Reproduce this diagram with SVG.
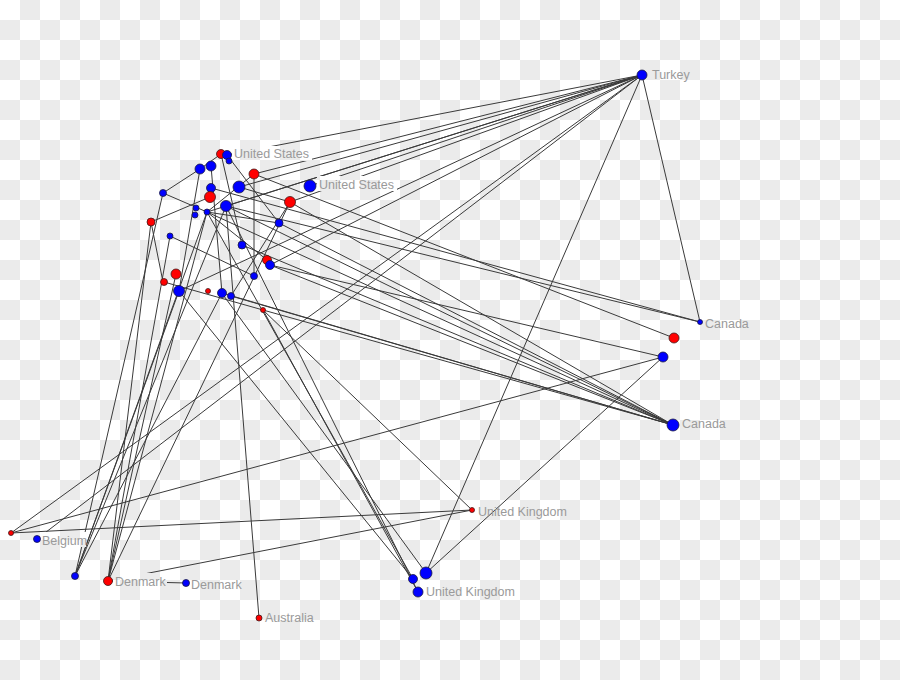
<svg xmlns="http://www.w3.org/2000/svg" width="900" height="680" viewBox="0 0 900 680">
<defs>
<pattern id="cb" width="40" height="40" patternUnits="userSpaceOnUse">
<rect width="40" height="40" fill="#ffffff"/>
<rect x="20" y="0" width="20" height="20" fill="#ebebeb"/>
<rect x="0" y="20" width="20" height="20" fill="#ebebeb"/>
</pattern>
</defs>
<style>
.e line{stroke:#3a3a3a;stroke-width:1}
.b{fill:#0000ff;stroke:#1a1a40;stroke-width:0.8}
.r{fill:#ff0000;stroke:#401a1a;stroke-width:0.8}
.t{font-family:"Liberation Sans",Arial,sans-serif;font-size:12.5px;fill:#9a9a9a}
.bg{fill:url(#cb)}
</style>
<rect width="900" height="680" fill="url(#cb)"/>
<g id="connectors" class="e">
<line x1="642" y1="75" x2="227" y2="155"/>
<line x1="642" y1="75" x2="254" y2="174"/>
<line x1="642" y1="75" x2="239" y2="187"/>
<line x1="642" y1="75" x2="310" y2="186"/>
<line x1="642" y1="75" x2="290" y2="202"/>
<line x1="642" y1="75" x2="226" y2="206"/>
<line x1="642" y1="75" x2="207" y2="212"/>
<line x1="642" y1="75" x2="270" y2="265"/>
<line x1="642" y1="75" x2="179" y2="291"/>
<line x1="642" y1="75" x2="11" y2="533"/>
<line x1="642" y1="75" x2="37" y2="539"/>
<line x1="642" y1="75" x2="700" y2="322"/>
<line x1="642" y1="75" x2="426" y2="573"/>
<line x1="673" y1="425" x2="207" y2="212"/>
<line x1="673" y1="425" x2="226" y2="206"/>
<line x1="673" y1="425" x2="290" y2="202"/>
<line x1="673" y1="425" x2="279" y2="223"/>
<line x1="673" y1="425" x2="270" y2="265"/>
<line x1="673" y1="425" x2="222" y2="293"/>
<line x1="673" y1="425" x2="231" y2="296"/>
<line x1="673" y1="425" x2="263" y2="310"/>
<line x1="673" y1="425" x2="242" y2="245"/>
<line x1="700" y1="322" x2="211" y2="188"/>
<line x1="700" y1="322" x2="226" y2="206"/>
<line x1="674" y1="338" x2="254" y2="174"/>
<line x1="663" y1="357" x2="270" y2="265"/>
<line x1="663" y1="357" x2="11" y2="533"/>
<line x1="663" y1="357" x2="426" y2="573"/>
<line x1="472" y1="510" x2="11" y2="533"/>
<line x1="472" y1="510" x2="108" y2="581"/>
<line x1="472" y1="510" x2="263" y2="310"/>
<line x1="108" y1="581" x2="186" y2="583"/>
<line x1="259" y1="618" x2="226" y2="206"/>
<line x1="75" y1="576" x2="179" y2="291"/>
<line x1="75" y1="576" x2="207" y2="212"/>
<line x1="75" y1="576" x2="163" y2="193"/>
<line x1="75" y1="576" x2="226" y2="206"/>
<line x1="75" y1="576" x2="222" y2="293"/>
<line x1="108" y1="581" x2="151" y2="222"/>
<line x1="108" y1="581" x2="176" y2="274"/>
<line x1="108" y1="581" x2="170" y2="236"/>
<line x1="108" y1="581" x2="207" y2="212"/>
<line x1="108" y1="581" x2="290" y2="202"/>
<line x1="413" y1="579" x2="207" y2="212"/>
<line x1="413" y1="579" x2="179" y2="291"/>
<line x1="418" y1="592" x2="226" y2="206"/>
<line x1="418" y1="592" x2="263" y2="310"/>
<line x1="426" y1="573" x2="221" y2="292"/>
<line x1="151" y1="222" x2="163" y2="282"/>
<line x1="151" y1="222" x2="210" y2="197"/>
<line x1="163" y1="193" x2="207" y2="212"/>
<line x1="163" y1="193" x2="200" y2="169"/>
<line x1="207" y1="212" x2="279" y2="223"/>
<line x1="207" y1="212" x2="267" y2="260"/>
<line x1="207" y1="212" x2="254" y2="174"/>
<line x1="170" y1="236" x2="254" y2="276"/>
<line x1="164" y1="282" x2="263" y2="310"/>
<line x1="221" y1="154" x2="242" y2="245"/>
<line x1="221" y1="154" x2="200" y2="169"/>
<line x1="227" y1="155" x2="279" y2="223"/>
<line x1="200" y1="169" x2="179" y2="291"/>
<line x1="211" y1="166" x2="222" y2="293"/>
<line x1="254" y1="174" x2="254" y2="276"/>
<line x1="290" y1="202" x2="231" y2="296"/>
<line x1="290" y1="202" x2="239" y2="187"/>
</g>
<g id="labels-bg">
<rect class="bg" x="232" y="146" width="80" height="15"/>
<rect class="bg" x="317" y="176" width="80" height="15"/>
<rect class="bg" x="40" y="532" width="46" height="15"/>
<rect class="bg" x="113" y="573" width="54" height="16"/>
</g>
<g id="n1"><circle class="r" cx="221" cy="154" r="4.5"/></g>
<g id="n2"><circle class="b" cx="227" cy="155" r="4.5"/><text class="t" x="234" y="158">United States</text></g>
<g id="n3"><circle class="b" cx="229" cy="161" r="3"/></g>
<g id="n4"><circle class="b" cx="200" cy="169" r="5"/></g>
<g id="n5"><circle class="b" cx="211" cy="166" r="5"/></g>
<g id="n6"><circle class="r" cx="254" cy="174" r="5"/></g>
<g id="n7"><circle class="b" cx="239" cy="187" r="6"/></g>
<g id="n8"><circle class="b" cx="310" cy="186" r="6"/><text class="t" x="319" y="189">United States</text></g>
<g id="n9"><circle class="b" cx="211" cy="188" r="4.5"/></g>
<g id="n10"><circle class="r" cx="210" cy="197" r="5.5"/></g>
<g id="n11"><circle class="b" cx="226" cy="206" r="5.5"/></g>
<g id="n12"><circle class="b" cx="163" cy="193" r="3.5"/></g>
<g id="n13"><circle class="r" cx="290" cy="202" r="5.5"/></g>
<g id="n14"><circle class="b" cx="196" cy="208" r="3"/></g>
<g id="n15"><circle class="b" cx="207" cy="212" r="3"/></g>
<g id="n16"><circle class="b" cx="195" cy="215" r="3"/></g>
<g id="n17"><circle class="r" cx="151" cy="222" r="4"/></g>
<g id="n18"><circle class="b" cx="279" cy="223" r="4"/></g>
<g id="n19"><circle class="b" cx="170" cy="236" r="3"/></g>
<g id="n20"><circle class="b" cx="242" cy="245" r="4"/></g>
<g id="n21"><circle class="r" cx="267" cy="260" r="4.5"/></g>
<g id="n22"><circle class="b" cx="270" cy="265" r="4.5"/></g>
<g id="n23"><circle class="b" cx="254" cy="276" r="3.5"/></g>
<g id="n24"><circle class="r" cx="176" cy="274" r="5"/></g>
<g id="n25"><circle class="r" cx="164" cy="282" r="3.5"/></g>
<g id="n26"><circle class="b" cx="179" cy="291" r="5.5"/></g>
<g id="n27"><circle class="r" cx="208" cy="291" r="2.5"/></g>
<g id="n28"><circle class="b" cx="222" cy="293" r="4.5"/></g>
<g id="n29"><circle class="b" cx="231" cy="296" r="3.5"/></g>
<g id="n30"><circle class="r" cx="263" cy="310" r="2.5"/></g>
<g id="turkey"><circle class="b" cx="642" cy="75" r="5"/><text class="t" x="652" y="79">Turkey</text></g>
<g id="canada-s"><circle class="b" cx="700" cy="322" r="2.5"/><text class="t" x="705" y="328">Canada</text></g>
<g id="n33"><circle class="r" cx="674" cy="338" r="5"/></g>
<g id="n34"><circle class="b" cx="663" cy="357" r="5"/></g>
<g id="canada-b"><circle class="b" cx="673" cy="425" r="6"/><text class="t" x="682" y="428">Canada</text></g>
<g id="uk-s"><circle class="r" cx="472" cy="510" r="2.5"/><text class="t" x="478" y="516">United Kingdom</text></g>
<g id="n37"><circle class="b" cx="413" cy="579" r="4.5"/></g>
<g id="n38"><circle class="b" cx="426" cy="573" r="6"/></g>
<g id="uk-b"><circle class="b" cx="418" cy="592" r="5"/><text class="t" x="426" y="596">United Kingdom</text></g>
<g id="n40"><circle class="r" cx="11" cy="533" r="2.5"/></g>
<g id="belgium"><circle class="b" cx="37" cy="539" r="3.5"/><text class="t" x="42" y="545">Belgium</text></g>
<g id="n42"><circle class="b" cx="75" cy="576" r="3.5"/></g>
<g id="denmark-r"><circle class="r" cx="108" cy="581" r="4.5"/><text class="t" x="115" y="586">Denmark</text></g>
<g id="denmark-b"><circle class="b" cx="186" cy="583" r="3.5"/><text class="t" x="191" y="589">Denmark</text></g>
<g id="australia"><circle class="r" cx="259" cy="618" r="3"/><text class="t" x="265" y="622">Australia</text></g>
</svg>
